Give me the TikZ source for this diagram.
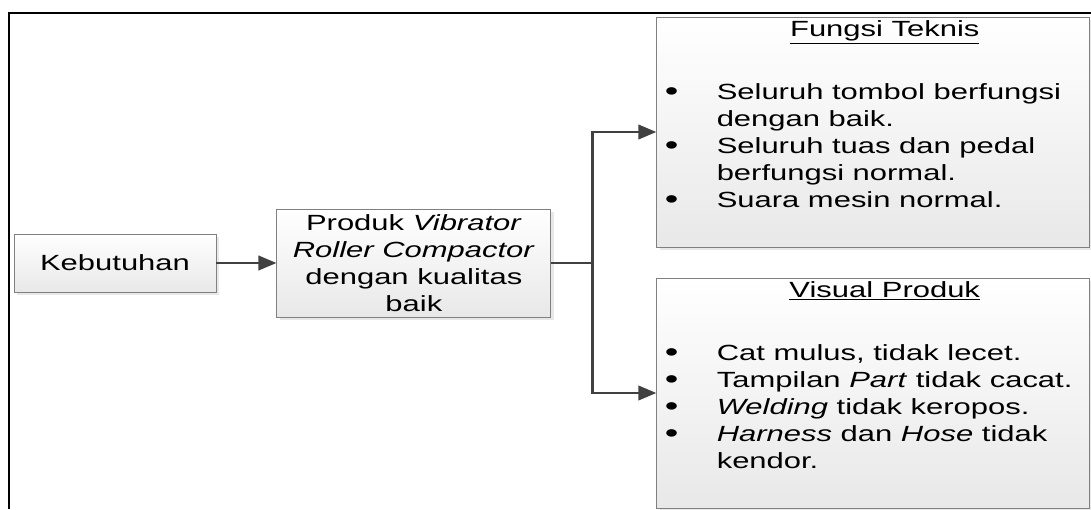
\documentclass[tikz,border=0pt]{standalone}
\usepackage{fontspec}
\setmainfont{Liberation Sans}[FakeStretch=1.41]
\usepackage{tikz}
\usetikzlibrary{arrows.meta, positioning, shadows}
\newcommand{\butir}{\hspace*{0.16cm}\makebox[1.04cm][l]{\raisebox{-0.03cm}{\scalebox{1.25}{\textbullet}}}}
\newcommand{\lanjut}{\hspace*{1.2cm}}

\begin{document}
\begin{tikzpicture}[
box/.style={rectangle, draw=black!50, line width=0.5pt, top color=white, bottom color=black!9,
drop shadow={shadow xshift=0.06cm, shadow yshift=-0.06cm, opacity=0.18},
align=center, inner sep=0pt, font=\fontsize{12.5pt}{15.4pt}\selectfont},
listbox/.style={box, minimum width=8.66cm, minimum height=4.6cm},
garis/.style={line width=1.4pt, draw=black!75},
arr/.style={garis, -{Triangle[length=0.36cm, width=0.29cm]}},
node distance=1.2cm
]
\useasboundingbox (0,0) rectangle (21.82,10.18);
\draw[line width=1.2pt] (0.18,0) -- (0.18,9.92) -- (21.82,9.92);

\node[box, minimum width=4.04cm, minimum height=1.16cm] (kebutuhan) at (2.30,4.92) {Kebutuhan};
\node[box, minimum width=5.48cm, minimum height=2.16cm, right=of kebutuhan] (produk)
{Produk \textit{Vibrator}\\ \textit{Roller Compactor}\\ dengan kualitas\\ baik};
\node[listbox, right=2.1cm of produk, yshift=2.62cm] (fungsi)
{\parbox[c][4.6cm][t]{8.66cm}{\centering\hspace*{0.46cm}\rule{0pt}{0.38cm}\underline{Fungsi Teknis}\par
\vspace{0.72cm}\raggedright
\butir Seluruh tombol berfungsi\\
\lanjut dengan baik.\\
\butir Seluruh tuas dan pedal\\
\lanjut berfungsi normal.\\
\butir Suara mesin normal.}};
\node[listbox, right=2.1cm of produk, yshift=-2.6cm] (visual)
{\parbox[c][4.6cm][t]{8.66cm}{\centering\hspace*{0.46cm}\rule{0pt}{0.38cm}\underline{Visual Produk}\par
\vspace{0.72cm}\raggedright
\butir Cat mulus, tidak lecet.\\
\butir Tampilan \textit{Part} tidak cacat.\\
\butir \textit{Welding} tidak keropos.\\
\butir \textit{Harness} dan \textit{Hose} tidak\\
\lanjut kendor.}};

\coordinate[right=0.82cm of produk] (cabang);
\draw[arr] (kebutuhan) -- (produk);
\draw[garis] (produk) -- (cabang);
\draw[arr] (cabang) |- (fungsi);
\draw[arr] (cabang) |- (visual);
\end{tikzpicture}
\end{document}
